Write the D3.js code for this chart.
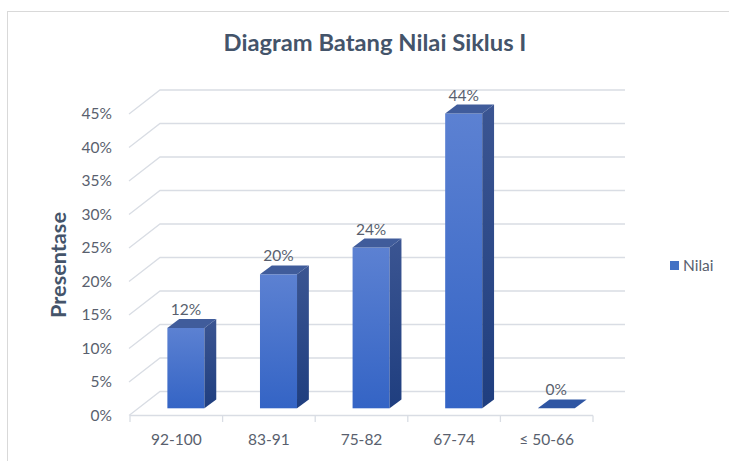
<!DOCTYPE html>
<html><head><meta charset="utf-8">
<script src="https://cdn.jsdelivr.net/npm/d3@7"></script>
<style>body{margin:0;background:#fff}svg{display:block}</style>
</head><body>
<svg id="c" width="729" height="461"></svg>
<script>
const categories = ["92-100","83-91","75-82","67-74","\u2264 50-66"];
const values = [0.12,0.20,0.24,0.44,0.00];
const valueLabels = ["12%","20%","24%","44%","0%"];
const yTicks = [0,0.05,0.10,0.15,0.20,0.25,0.30,0.35,0.40,0.45];
const seriesName = "Nilai";
const title = "Diagram Batang Nilai Siklus I";
const yTitle = "Presentase";

const svg = d3.select("#c");
const font = "Lato, 'Open Sans', sans-serif";
const gridColor = "#d9dde4";
const textColor = "#595f6e";

// frame
svg.append("rect").attr("x",7.5).attr("y",11.5).attr("width",760).attr("height",480)
  .attr("fill","#fff").attr("stroke","#d9d9d9").attr("stroke-width",1);

// 3D geometry
const DX = 32, DY = -24;           // full floor depth
const front0 = 415.5;
const x = d3.scaleBand().domain(categories).range([130, 593]).padding(0);
const y = d3.scaleLinear().domain([0, 0.45]).range([front0, front0 - 301.5]);

const defs = svg.append("defs");
const gf = defs.append("linearGradient").attr("id","gf").attr("x1",0).attr("y1",0).attr("x2",0).attr("y2",1);
gf.append("stop").attr("offset","0%").attr("stop-color","#5c81d2");
gf.append("stop").attr("offset","100%").attr("stop-color","#3464c5");
const gs = defs.append("linearGradient").attr("id","gs").attr("x1",0).attr("y1",0).attr("x2",0).attr("y2",1);
gs.append("stop").attr("offset","0%").attr("stop-color","#3b5592");
gs.append("stop").attr("offset","100%").attr("stop-color","#1f3e7f");

// gridlines: diagonal on left wall + back line
const grid = svg.append("g").attr("fill","none").attr("stroke",gridColor).attr("stroke-width",1.3);
yTicks.forEach(t => {
  const yf = y(t);
  grid.append("path").attr("d", `M${x.range()[0]-1},${yf} L${x.range()[0]+DX-2},${yf+DY} L${x.range()[1]+DX},${yf+DY}`);
});
// floor front edge + ticks
grid.append("path").attr("d", `M${x.range()[0]},${front0} L${x.range()[1]},${front0}`);
const bounds = categories.map(c => x(c)).concat([x.range()[1]]);
bounds.forEach(b => grid.append("path").attr("d", `M${b},${front0} L${b},${front0+6.5}`));

// y tick labels
svg.append("g").selectAll("text").data(yTicks).join("text")
  .attr("x",112).attr("y",d => y(d)).attr("dy","0.35em").attr("text-anchor","end")
  .attr("font-family",font).attr("font-size",15.5).attr("fill",textColor)
  .text(d => Math.round(d*100) + "%");

// category labels
svg.append("g").selectAll("text").data(categories).join("text")
  .attr("x",d => x(d) + x.bandwidth()/2).attr("y",444.5).attr("text-anchor","middle")
  .attr("font-family",font).attr("font-size",15.5).attr("fill",textColor)
  .text(d => d);

// bars
const f0 = 0.30, fd = 0.37;
const bw = x.bandwidth()*0.40;
const bars = svg.append("g");
categories.forEach((c,i) => {
  const v = values[i];
  const x0 = x(c) + x.bandwidth()/2 - bw/2 + DX*f0;
  const x1 = x0 + bw;
  const yb = y(0) + DY*f0;
  const yt = y(v) + DY*f0;
  const ddx = DX*fd, ddy = DY*fd;
  if (v > 0) {
    bars.append("rect").attr("x",x0).attr("y",yt).attr("width",bw).attr("height",yb-yt).attr("fill","url(#gf)");
    bars.append("path").attr("d",`M${x1},${yt} L${x1+ddx},${yt+ddy} L${x1+ddx},${yb+ddy} L${x1},${yb} Z`).attr("fill","url(#gs)");
  }
  bars.append("path").attr("d",`M${x0},${yt} L${x0+ddx},${yt+ddy} L${x1+ddx},${yt+ddy} L${x1},${yt} Z`)
    .attr("fill", v > 0 ? "#405c9b" : "#2f56a3");
  svg.append("text").attr("x",(x0+x1)/2).attr("y",yt+ddy-4).attr("text-anchor","middle")
    .attr("font-family",font).attr("font-size",15.5).attr("fill",textColor).text(valueLabels[i]);
});

// title
const tt = svg.append("text").attr("x",375).attr("y",51).attr("text-anchor","middle")
  .attr("font-family",font).attr("font-weight",700).attr("font-size",21).attr("fill","#44546a").text(title);
const tw = tt.node().getComputedTextLength();
tt.attr("font-size", 21*303/tw);

// y axis title
const yt2 = svg.append("text").attr("transform","translate(66,265) rotate(-90)").attr("text-anchor","middle")
  .attr("font-family",font).attr("font-weight",700).attr("font-size",18).attr("fill","#44546a").text(yTitle);
const yw = yt2.node().getComputedTextLength();
yt2.attr("font-size", 18*106/yw);

// legend
svg.append("rect").attr("x",670).attr("y",261).attr("width",9).attr("height",9).attr("fill","#4472c4");
svg.append("text").attr("x",683).attr("y",266).attr("dy","0.35em")
  .attr("font-family",font).attr("font-size",15.5).attr("fill",textColor).text(seriesName);
</script>
</body></html>
